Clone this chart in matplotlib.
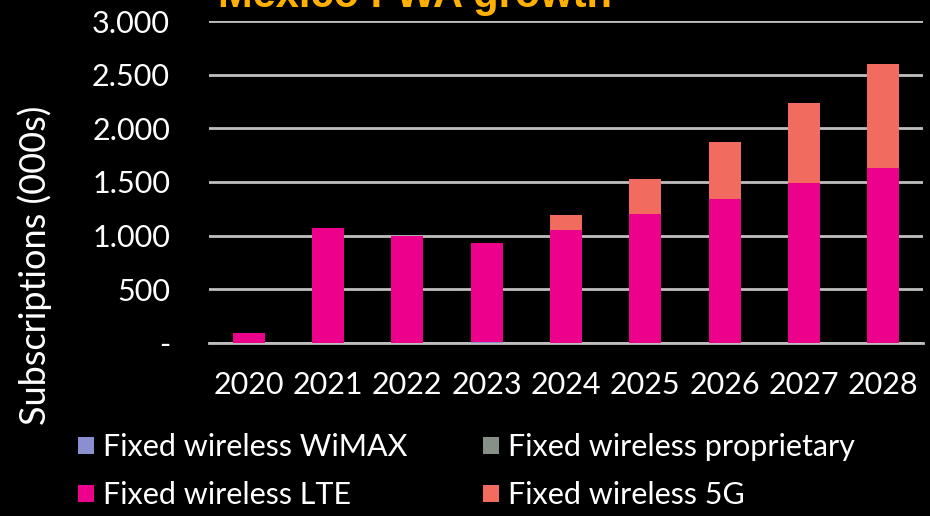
import matplotlib.pyplot as plt
from matplotlib.patches import Patch
from matplotlib.ticker import FuncFormatter, MultipleLocator
import numpy as np

years = ['2020', '2021', '2022', '2023', '2024', '2025', '2026', '2027', '2028']
wimax = [0, 0, 0, 12, 0, 0, 0, 0, 0]
proprietary = [0, 0, 0, 0, 0, 0, 0, 0, 0]
lte = [95, 1070, 1000, 920, 1055, 1200, 1345, 1490, 1630]
fiveg = [0, 0, 0, 0, 140, 330, 530, 745, 970]

series_names = ['Fixed wireless WiMAX', 'Fixed wireless proprietary',
                'Fixed wireless LTE', 'Fixed wireless 5G']
colors = ['#8A8FD0', '#879087', '#EC008C', '#F26B5F']

FONT = 'Lato'
plt.rcParams['font.family'] = [FONT, 'DejaVu Sans']

fig = plt.figure(figsize=(9.3, 5.16), dpi=100, facecolor='black')
ax = fig.add_axes([0.2247, 0.3353, 0.7678, 0.624])
ax.set_facecolor('black')

x = np.arange(len(years))
bottom = np.zeros(len(years))
for vals, col in zip([wimax, proprietary, lte, fiveg], colors):
    ax.bar(x, vals, width=0.4, bottom=bottom, color=col, zorder=3)
    bottom += np.array(vals)

ax.set_xlim(-0.5, len(years) - 0.5)
ax.set_ylim(0, 3000)
ax.yaxis.set_major_locator(MultipleLocator(500))
ax.yaxis.set_major_formatter(FuncFormatter(
    lambda v, p: '-' if v == 0 else f'{int(v):,}'.replace(',', '.')))
ax.set_xticks(x)
ax.set_xticklabels(years)
ax.grid(axis='y', color='#BFBFBF', linewidth=2, zorder=0)
for s in ['top', 'right', 'left']:
    ax.spines[s].set_visible(False)
ax.spines['bottom'].set_color('#BFBFBF')
ax.spines['bottom'].set_linewidth(2)
ax.tick_params(axis='y', length=0, pad=28, labelsize=22, colors='white')
ax.tick_params(axis='x', length=0, pad=20, labelsize=22, colors='white')

fig.text(35 / 930, 1 - 265 / 516, 'Subscriptions (000s)', rotation=90,
         color='white', fontsize=26, ha='center', va='center')

fig.text(218 / 930, 1 - 7 / 516, 'Mexico FWA growth', color='#FFB000',
         fontsize=30, fontweight='bold', family='Liberation Sans',
         ha='left', va='baseline')

# legend fills by column, so order handles to read row-wise
order = [0, 2, 1, 3]
handles = [Patch(facecolor=colors[i]) for i in order]
labels = [series_names[i] for i in order]
leg = fig.legend(handles, labels, loc='upper left',
                 bbox_to_anchor=(66 / 930, 1 - 421 / 516), ncol=2,
                 frameon=False, fontsize=22, handlelength=0.5,
                 handleheight=0.5, handletextpad=0.3, columnspacing=2.5,
                 labelspacing=0.65, borderaxespad=0)
for t in leg.get_texts():
    t.set_color('white')

fig.savefig('out.png', dpi=100, facecolor='black')
